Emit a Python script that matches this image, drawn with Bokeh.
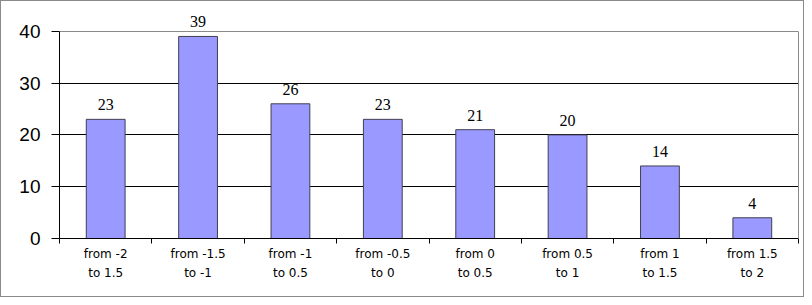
from bokeh.plotting import figure
from bokeh.models import FixedTicker, Range1d, ColumnDataSource, LabelSet, LinearAxis, Grid
from bokeh.embed import file_html
from bokeh.resources import INLINE

categories = ["from -2\nto 1.5", "from -1.5\nto -1", "from -1\nto 0.5", "from -0.5\nto 0",
              "from 0\nto 0.5", "from 0.5\nto 1", "from 1\nto 1.5", "from 1.5\nto 2"]
counts = [23, 39, 26, 23, 21, 20, 14, 4]
y_ticks = [0, 10, 20, 30, 40]

n = len(categories)
centers = [i + 0.5 for i in range(n)]
src = ColumnDataSource(dict(x=centers, top=counts, label=[str(c) for c in counts]))

y_max = y_ticks[-1]
# extra headroom above the top tick so the value labels are not clipped
p = figure(width=804, height=297, output_backend="svg", toolbar_location=None,
           x_range=Range1d(0, n), y_range=Range1d(0, y_max * 1.105),
           min_border_left=58, min_border_right=7, min_border_top=8, min_border_bottom=60)
p.styles = {"border": "1px solid #8a8a8a", "box-sizing": "border-box"}
p.outline_line_color = None

p.vbar(x="x", top="top", width=0.42, bottom=0, source=src,
       fill_color="#9999FF", line_color="#404050", line_width=1)
labels = LabelSet(x="x", y="top", text="label", source=src, text_align="center",
                  text_baseline="bottom", y_offset=9, text_font="Liberation Sans",
                  text_font_size="16px", text_color="black")
p.add_layout(labels)

p.xgrid.visible = False
p.ygrid.ticker = FixedTicker(ticks=y_ticks[1:-1])
p.ygrid.grid_line_color = "black"
p.ygrid.grid_line_width = 1
top_grid = Grid(dimension=1, ticker=FixedTicker(ticks=[y_max]), grid_line_color="#8a8a8a")
p.add_layout(top_grid)

right_axis = LinearAxis(bounds=(0, y_max), ticker=FixedTicker(ticks=[]),
                        axis_line_color="#8a8a8a", major_tick_line_color=None,
                        minor_tick_line_color=None, major_label_text_font_size="0px")
p.add_layout(right_axis, "right")

p.yaxis[0].bounds = (0, y_max)
p.yaxis[0].ticker = FixedTicker(ticks=y_ticks)
p.yaxis[0].axis_line_color = "black"
p.yaxis[0].major_tick_line_color = "black"
p.yaxis[0].major_tick_out = 8
p.yaxis[0].major_tick_in = 0
p.yaxis[0].minor_tick_line_color = None
p.yaxis[0].major_label_text_font = "Liberation Sans"
p.yaxis[0].major_label_text_font_size = "19px"
p.yaxis[0].major_label_text_color = "black"
p.yaxis[0].major_label_standoff = 11

p.xaxis.ticker = FixedTicker(ticks=centers, minor_ticks=list(range(n + 1)))
p.xaxis.major_label_overrides = {c: lab for c, lab in zip(centers, categories)}
p.xaxis.axis_line_color = "black"
p.xaxis.major_tick_line_color = None
p.xaxis.major_tick_out = 0
p.xaxis.major_tick_in = 0
p.xaxis.minor_tick_line_color = "black"
p.xaxis.minor_tick_out = 5
p.xaxis.minor_tick_in = 0
p.xaxis.major_label_text_font = "DejaVu Sans"
p.xaxis.major_label_text_font_size = "12px"
p.xaxis.major_label_text_color = "black"
p.xaxis.major_label_standoff = 3
p.xaxis.major_label_text_line_height = 1.4

open("out.html", "w").write(file_html(p, INLINE))
